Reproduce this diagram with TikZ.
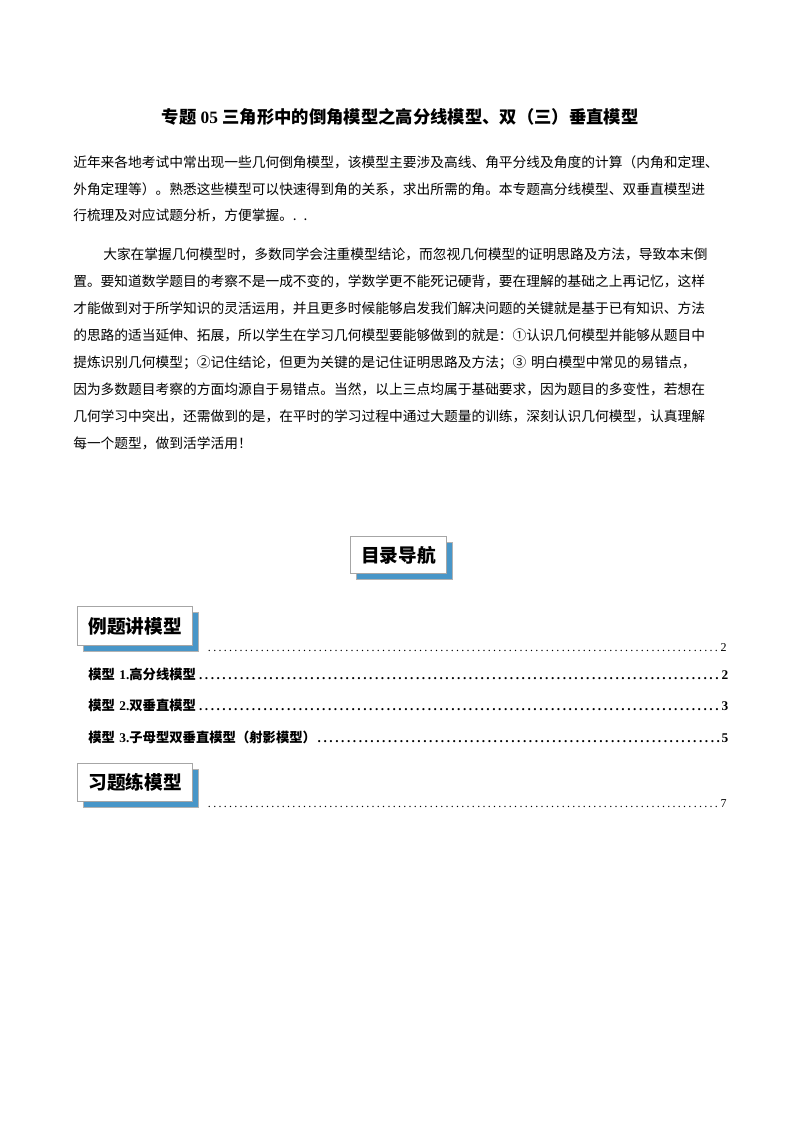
\documentclass[tikz,border=0pt]{standalone}
\usepackage{fontspec}
\setmainfont{Liberation Serif}
\newfontfamily\cjk{Noto Sans CJK SC}
\XeTeXlinebreaklocale "zh"
\XeTeXlinebreakskip=0pt plus 2pt minus 0.6pt
\definecolor{shad}{RGB}{72,150,200}
\tikzset{
  pline/.style={anchor=north west,inner sep=0pt,text width=500pt,font=\cjk\fontsize{10.3}{13}\selectfont},
  tocbox/.style={draw=gray!70,line width=0.8pt,fill=white,inner sep=0pt,font=\cjk\bfseries\fontsize{14}{16}\selectfont},
  shadowbox/.style={fill=shad,draw=gray!60,line width=0.5pt},
  entry/.style={anchor=north west,inner sep=0pt,text width=480pt,font=\bfseries\fontsize{10}{12}\selectfont}
}
\newcommand{\jline}[1]{\hbox to 490.5pt{#1}}
\newcommand{\nline}[1]{\hbox{#1}}
\begin{document}
\begin{tikzpicture}[x=0.75pt,y=-0.75pt]
\fill[white] (0,0) rectangle (800,1132);
\useasboundingbox (0,0) rectangle (800,1132);
\node[inner sep=0pt,font=\bfseries\fontsize{13}{15}\selectfont] (title) at (400,117)
  {{\cjk 专题} 05 {\cjk 三角形中的倒角模型之高分线模型、双（三）垂直模型}};
\node[pline] (p1) at (73,155) {\jline{近年来各地考试中常出现一些几何倒角模型，该模型主要涉及高线、角平分线及角度的计算（内角和定理、}};
\node[pline] (p2) at (73,182) {\jline{外角定理等）。熟悉这些模型可以快速得到角的关系，求出所需的角。本专题高分线模型、双垂直模型进}};
\node[pline] (p3) at (73,209) {\nline{行梳理及对应试题分析，方便掌握。. .}};
\node[pline] (q1) at (103,248) {\hbox to 468pt{大家在掌握几何模型时，多数同学会注重模型结论，而忽视几何模型的证明思路及方法，导致本末倒}};
\node[pline] (q2) at (73,275) {\jline{置。要知道数学题目的考察不是一成不变的，学数学更不能死记硬背，要在理解的基础之上再记忆，这样}};
\node[pline] (q3) at (73,302) {\jline{才能做到对于所学知识的灵活运用，并且更多时候能够启发我们解决问题的关键就是基于已有知识、方法}};
\node[pline] (q4) at (73,329) {\jline{的思路的适当延伸、拓展，所以学生在学习几何模型要能够做到的就是：①认识几何模型并能够从题目中}};
\node[pline] (q5) at (73,356) {\nline{提炼识别几何模型；②记住结论，但更为关键的是记住证明思路及方法；③ 明白模型中常见的易错点，}};
\node[pline] (q6) at (73,383) {\nline{因为多数题目考察的方面均源自于易错点。当然，以上三点均属于基础要求，因为题目的多变性，若想在}};
\node[pline] (q7) at (73,410) {\jline{几何学习中突出，还需做到的是，在平时的学习过程中通过大题量的训练，深刻认识几何模型，认真理解}};
\node[pline] (q8) at (73,437) {\nline{每一个题型，做到活学活用！}};
% boxes
\fill[shadowbox] (356,542) rectangle (452,579);
\node[tocbox,minimum width=72pt,minimum height=27.75pt,anchor=north west] (nav) at (350,536) {目录导航};
\fill[shadowbox] (83,612) rectangle (198,651);
\node[tocbox,minimum width=86.25pt,minimum height=29.25pt,anchor=north west] (ex) at (77,606) {例题讲模型};
\fill[shadowbox] (83,769) rectangle (198,807);
\node[tocbox,minimum width=86.25pt,minimum height=28.5pt,anchor=north west] (pr) at (77,763) {习题练模型};
% toc lines
\node[entry,text width=391pt,font=\fontsize{9}{11}\selectfont] (t0) at (205,643) {\noindent\dotfill 2};
\node[entry] (t1) at (88,668) {\noindent{\cjk 模型} 1.{\cjk 高分线模型}\dotfill 2};
\node[entry] (t2) at (88,699) {\noindent{\cjk 模型} 2.{\cjk 双垂直模型}\dotfill 3};
\node[entry] (t3) at (88,731) {\noindent{\cjk 模型} 3.{\cjk 子母型双垂直模型（射影模型）}\dotfill 5};
\node[entry,text width=391pt,font=\fontsize{9}{11}\selectfont] (t4) at (205,799) {\noindent\dotfill 7};
\end{tikzpicture}
\end{document}
